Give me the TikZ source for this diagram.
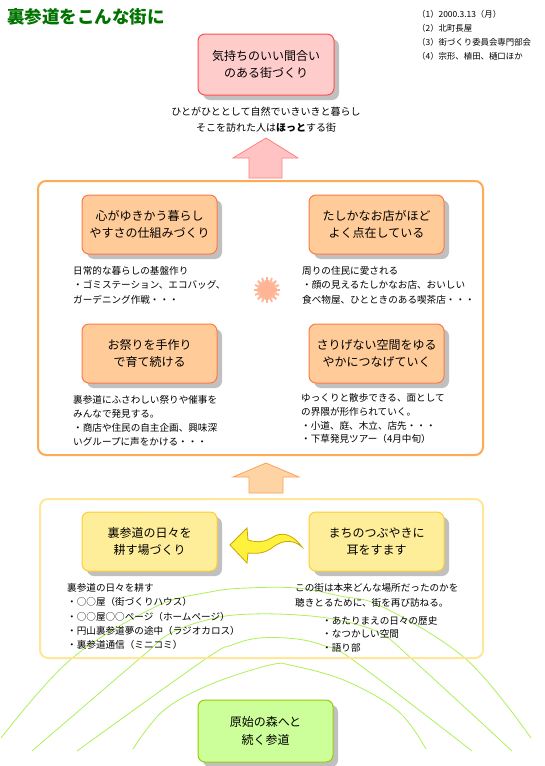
\documentclass[tikz,border=0pt]{standalone}
\usepackage{fontspec}
\setmainfont{Noto Sans CJK JP}
\usetikzlibrary{shadows}
\definecolor{titlegreen}{RGB}{0,115,0}
\definecolor{pinkfill}{RGB}{255,204,204}
\definecolor{pinkdraw}{RGB}{255,80,80}
\definecolor{peachfill}{RGB}{255,204,153}
\definecolor{peachdraw}{RGB}{255,120,70}
\definecolor{yelfill}{RGB}{255,238,153}
\definecolor{yeldraw}{RGB}{255,204,51}
\definecolor{grnfill}{RGB}{204,255,153}
\definecolor{grndraw}{RGB}{153,204,0}
\definecolor{shadowgray}{RGB}{192,192,192}
\definecolor{frameorange}{RGB}{255,170,85}
\definecolor{frameyellow}{RGB}{255,230,153}
\definecolor{arcgreen}{RGB}{175,240,90}
\definecolor{sunray}{RGB}{255,180,150}
\definecolor{pinkarrow}{RGB}{255,195,195}
\definecolor{pinkarrowdraw}{RGB}{255,130,130}
\definecolor{orarrow}{RGB}{255,212,165}
\definecolor{orarrowdraw}{RGB}{255,160,90}
\definecolor{yarrow}{RGB}{255,242,60}
\definecolor{yarrowdraw}{RGB}{205,165,0}
\begin{document}
\begin{tikzpicture}[x=1pt,y=-1pt,
  boxbase/.style={rounded corners=7pt, minimum width=135pt, minimum height=59pt,
    inner sep=0pt, align=center, font=\fontsize{12}{17.5}\selectfont, line width=1pt,
    drop shadow={shadow xshift=5pt, shadow yshift=-5pt, fill=shadowgray, opacity=1}},
  pinkbox/.style={boxbase, fill=pinkfill, draw=pinkdraw, minimum width=136pt, minimum height=61pt},
  peachbox/.style={boxbase, fill=peachfill, draw=peachdraw},
  yelbox/.style={boxbase, fill=yelfill, draw=yeldraw},
  grnbox/.style={boxbase, fill=grnfill, draw=grndraw, minimum height=62pt, font=\fontsize{12}{18.5}\selectfont},
  body/.style={font=\fontsize{9.6}{14.3}\selectfont, align=left, inner sep=0pt, anchor=north west},
  frame/.style={rounded corners=8pt, line width=2pt},
  arcline/.style={draw=arcgreen, line width=0.8pt},
  ray/.style={draw=sunray, line width=1.8pt},
]
\useasboundingbox (0,0) rectangle (545,766);
\fill[white] (0,0) rectangle (545,766);

% green arcs
\draw[arcline] plot[smooth, tension=0.6] coordinates {(1,738) (70,660) (155,607) (210,592) (247,588) (297,588) (340,596) (383,607) (467,660) (531,738)};
\draw[arcline] plot[smooth, tension=0.6] coordinates {(32,751) (138,660) (171,633) (215,618) (253,614) (298,615) (338,620) (380,633) (413,660) (512,751)};
\draw[arcline] plot[smooth, tension=0.6] coordinates {(77,751) (204,660) (232,645) (260,638) (297,639) (325,646) (353,660) (472,751)};
\draw[arcline] plot[smooth, tension=0.6] coordinates {(133,749) (163,711) (209,685) (270,665) (294,666) (346,681) (398,711) (426,749)};

% title and notes
\node[anchor=west, font=\fontsize{17.5}{20}\selectfont\bfseries, text=titlegreen, inner sep=0pt] (title) at (7,17) {裏参道をこんな街に};
\node[body, font=\fontsize{8.4}{14.2}\selectfont] (notes) at (417,9.8) {（1）2000.3.13（月）\\（2）北町長屋\\（3）街づくり委員会専門部会\\（4）宗形、植田、樋口ほか};

% top box
\node[pinkbox] (goal) at (266,64.5) {気持ちのいい間合い\\のある街づくり};
\node[align=center, font=\fontsize{10}{16}\selectfont, inner sep=0pt] (motto) at (266,120) {ひとがひととして自然でいきいきと暮らし\\そこを訪れた人は\textbf{ほっと}する街};

% pink arrow
\draw[fill=pinkarrow, draw=pinkarrowdraw, line width=0.8pt] (266,138) -- (298,158) -- (282,158) -- (282,178) -- (249,178) -- (249,158) -- (233,158) -- cycle;

% orange frame
\draw[frame, draw=frameorange] (38,181) rectangle (483,455);
\node[peachbox] (life) at (149.5,224.5) {心がゆきかう暮らし\\やすさの仕組みづくり};
\node[peachbox] (shop) at (376.5,224.5) {たしかなお店がほど\\よく点在している};
\node[peachbox] (fest) at (149.5,353.5) {お祭りを手作り\\で育て続ける};
\node[peachbox] (space) at (376.5,353.5) {さりげない空間をゆる\\やかにつなげていく};
\node[body] (lifetxt) at (73,266.2) {日常的な暮らしの基盤作り\\・ゴミステーション、エコバッグ、\\ガーデニング作戦・・・};
\node[body] (shoptxt) at (302,266.2) {周りの住民に愛される\\・顔の見えるたしかなお店、おいしい\\食べ物屋、ひとときのある喫茶店・・・};
\node[body, font=\fontsize{9.6}{14}\selectfont] (festtxt) at (73,395.2) {裏参道にふさわしい祭りや催事を\\みんなで発見する。\\・商店や住民の自主企画、興味深\\いグループに声をかける・・・};
\node[body, font=\fontsize{9.6}{13.8}\selectfont] (spacetxt) at (301,393.2) {ゆっくりと散歩できる、面として\\の界隈が形作られていく。\\・小道、庭、木立、店先・・・\\・下草発見ツアー（4月中旬）};

% sunburst
\foreach \a in {0,22.5,...,337.5} \draw[ray] (267,290) -- ++(\a:13);
\foreach \a in {11.25,33.75,...,348.75} \draw[ray, line width=1.2pt] (267,290) -- ++(\a:10);

% orange arrow
\draw[fill=orarrow, draw=orarrowdraw, line width=0.8pt] (266,463) -- (299,477) -- (283,477) -- (283,493) -- (249,493) -- (249,477) -- (233,477) -- cycle;

% yellow frame
\draw[frame, draw=frameyellow] (40,499) rectangle (483,658);
\node[yelbox] (till) at (149.5,541.5) {裏参道の日々を\\耕す場づくり};
\node[yelbox] (listen) at (376.5,541.5) {まちのつぶやきに\\耳をすます};
\node[body] (tilltxt) at (67,583.2) {裏参道の日々を耕す\\・○○屋（街づくりハウス）\\・○○屋○○ページ（ホームページ）\\・円山裏参道夢の途中（ラジオカロス）\\・裏参道通信（ミニコミ）};
\node[body, font=\fontsize{9.6}{15}\selectfont] (listentxt) at (295,583.2) {この街は本来どんな場所だったのかを\\聴きとるために、街を再び訪ねる。};
\node[body, font=\fontsize{9.6}{13.5}\selectfont] (listenlist) at (322,616.2) {・あたりまえの日々の歴史\\・なつかしい空間\\・語り部};

% yellow curvy arrow
\draw[fill=yarrow, draw=yarrowdraw, line width=0.8pt] (230,545) -- (247,528) -- (248,540)
  .. controls (258,543) and (265,542) .. (273,537)
  .. controls (281,532) and (292,533) .. (302,547)
  .. controls (294,540) and (284,539) .. (273,547)
  .. controls (266,553) and (258,554) .. (248,553) -- (247,563) -- cycle;

% bottom green box
\node[grnbox] (forest) at (265.5,731) {原始の森へと\\続く参道};
\end{tikzpicture}
\end{document}
